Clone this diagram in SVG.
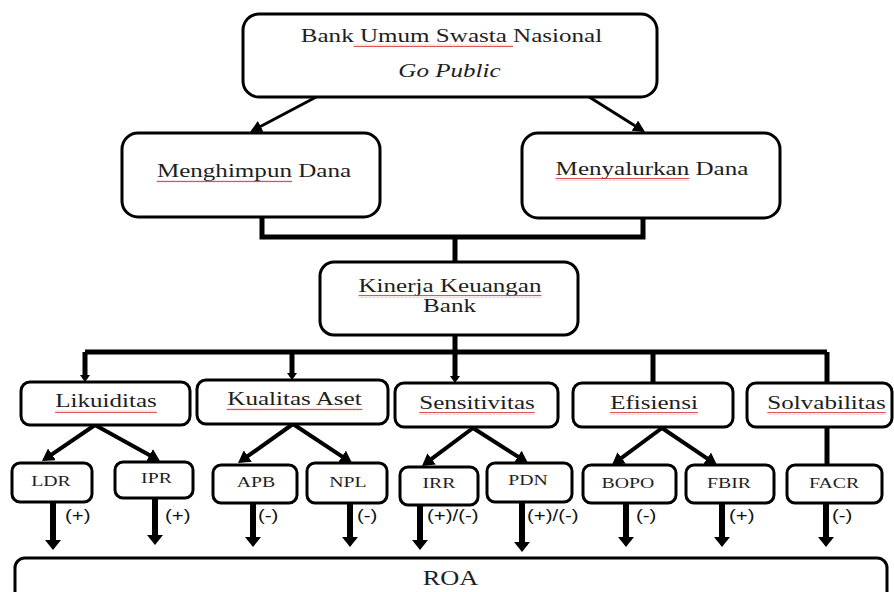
<svg xmlns="http://www.w3.org/2000/svg" width="894" height="592" viewBox="0 0 894 592">
<defs>
<style>
.box{fill:#fff;stroke:#000;stroke-width:3}
.t{font-family:'Liberation Serif','DejaVu Serif',serif;font-size:19px;fill:#1e1e1e;text-anchor:middle}
.tb{font-family:'Liberation Serif','DejaVu Serif',serif;font-size:15px;fill:#1e1e1e;text-anchor:middle}
.ro{font-family:'Liberation Serif','DejaVu Serif',serif;font-size:20px;fill:#1e1e1e;text-anchor:middle}
.s{font-family:'Liberation Sans','DejaVu Sans',sans-serif;font-size:17px;fill:#111}
.c5{stroke:#000;fill:none;stroke-width:5}
.c4{stroke:#000;fill:none;stroke-width:4}
.c3{stroke:#000;fill:none;stroke-width:3}
.c6{stroke:#000;fill:none;stroke-width:6}
.w{fill:url(#wave)}
</style>
<pattern id="wave" patternUnits="userSpaceOnUse" width="4" height="3"><path d="M0,2.2 L1,0.8 L2,2.2 L3,0.8 L4,2.2" stroke="#d42a2a" stroke-width="0.8" fill="none"/></pattern>
<marker id="a3" markerUnits="userSpaceOnUse" viewBox="0 0 12 12" markerWidth="12" markerHeight="12" refX="9" refY="6" orient="auto"><path d="M0,0 L12,6 L0,12 z" fill="#000"/></marker>
<marker id="a4" markerUnits="userSpaceOnUse" viewBox="0 0 12 14" markerWidth="12" markerHeight="14" refX="8" refY="7" orient="auto"><path d="M0,0 L12,7 L0,14 z" fill="#000"/></marker>
<marker id="a6" markerUnits="userSpaceOnUse" viewBox="0 0 10 16" markerWidth="10" markerHeight="16" refX="6" refY="8" orient="auto"><path d="M0,0 L10,8 L0,16 z" fill="#000"/></marker>
<marker id="as" markerUnits="userSpaceOnUse" viewBox="0 0 7 10" markerWidth="7" markerHeight="10" refX="3.5" refY="5" orient="auto"><path d="M0,0 L7,5 L0,10 z" fill="#000"/></marker>
</defs>
<rect width="894" height="592" fill="#fff"/>

<g id="connectors">
<path class="c3" d="M320,95 L252.7,130.6" marker-end="url(#a3)"/>
<path class="c3" d="M586,95 L642.5,130.4" marker-end="url(#a3)"/>
<path class="c5" d="M262,213 V237 H643 V215"/>
<path class="c5" d="M455,237 V262"/>
<path class="c5" d="M455,330 V352"/>
<path class="c5" d="M85,352 H827"/>
<path class="c5" d="M85,352 V378.5" marker-end="url(#as)"/>
<path class="c5" d="M292,352 V376.5" marker-end="url(#as)"/>
<path class="c5" d="M455,352 V379.5" marker-end="url(#as)"/>
<path class="c5" d="M653,352 V383"/>
<path class="c5" d="M827,352 V383"/>
<path class="c4" d="M95,425 L45.3,458.8" marker-end="url(#a4)"/>
<path class="c4" d="M95,425 L156.5,459.1" marker-end="url(#a4)"/>
<path class="c4" d="M293,424 L241.3,460.7" marker-end="url(#a4)"/>
<path class="c4" d="M293,424 L348.7,460.8" marker-end="url(#a4)"/>
<path class="c4" d="M473,428 L425.2,463.6" marker-end="url(#a4)"/>
<path class="c4" d="M473,428 L524.6,460.9" marker-end="url(#a4)"/>
<path class="c4" d="M662,428 L615.2,462.6" marker-end="url(#a4)"/>
<path class="c4" d="M662,428 L713.7,462.8" marker-end="url(#a4)"/>
<path class="c5" d="M827,427 V465"/>
<path class="c6" d="M53,502 V546" marker-end="url(#a6)"/>
<path class="c6" d="M155,498 V541" marker-end="url(#a6)"/>
<path class="c6" d="M253,503 V543" marker-end="url(#a6)"/>
<path class="c6" d="M350,503 V543" marker-end="url(#a6)"/>
<path class="c6" d="M420,505 V546" marker-end="url(#a6)"/>
<path class="c6" d="M522,502 V548" marker-end="url(#a6)"/>
<path class="c6" d="M626,503 V543" marker-end="url(#a6)"/>
<path class="c6" d="M722,503 V543" marker-end="url(#a6)"/>
<path class="c6" d="M826,503 V543" marker-end="url(#a6)"/>
<text class="s" transform="translate(65 521) scale(1.2 1)">(+)</text>
<text class="s" transform="translate(165 521) scale(1.2 1)">(+)</text>
<text class="s" transform="translate(258 521) scale(1.2 1)">(-)</text>
<text class="s" transform="translate(357 521) scale(1.2 1)">(-)</text>
<text class="s" transform="translate(427 521) scale(1.2 1)">(+)/(-)</text>
<text class="s" transform="translate(527 521) scale(1.2 1)">(+)/(-)</text>
<text class="s" transform="translate(636 521) scale(1.2 1)">(-)</text>
<text class="s" transform="translate(729 521) scale(1.2 1)">(+)</text>
<text class="s" transform="translate(832 521) scale(1.2 1)">(-)</text>
</g>

<g id="bank">
<rect class="box" x="243" y="14" width="414" height="83" rx="16"/>
<text class="t" transform="translate(451.5 42) scale(1.32 1)">Bank Umum Swasta Nasional</text>
<rect class="w" x="353.6" y="44" width="159.5" height="3"/>
<text class="t" font-style="italic" transform="translate(449.5 77) scale(1.32 1)">Go Public</text>
</g>
<g id="menghimpun">
<rect class="box" x="122" y="133" width="258" height="84" rx="16"/>
<text class="t" transform="translate(254 177) scale(1.32 1)">Menghimpun Dana</text>
<rect class="w" x="156.8" y="180" width="135.2" height="3"/>
</g>
<g id="menyalurkan">
<rect class="box" x="522" y="133" width="258" height="85" rx="16"/>
<text class="t" transform="translate(652 175) scale(1.32 1)">Menyalurkan Dana</text>
<rect class="w" x="555.6" y="178" width="133.7" height="3"/>
</g>
<g id="kinerja">
<rect class="box" x="320" y="262" width="258" height="73" rx="14"/>
<text class="t" transform="translate(450 292) scale(1.32 1)">Kinerja Keuangan</text>
<rect class="w" x="358.5" y="295" width="183" height="3"/>
<text class="t" transform="translate(449.5 312) scale(1.32 1)">Bank</text>
</g>
<g id="likuiditas">
<rect class="box" x="21" y="382" width="169" height="43" rx="9"/>
<text class="t" transform="translate(106 407) scale(1.32 1)">Likuiditas</text>
<rect class="w" x="55.1" y="410" width="101.8" height="3"/>
</g>
<g id="kualitas">
<rect class="box" x="197" y="380" width="191" height="44" rx="9"/>
<text class="t" transform="translate(294.5 405) scale(1.32 1)">Kualitas Aset</text>
<rect class="w" x="226.6" y="408" width="135.8" height="3"/>
</g>
<g id="sensitivitas">
<rect class="box" x="395" y="383" width="163" height="44" rx="9"/>
<text class="t" transform="translate(477 409) scale(1.32 1)">Sensitivitas</text>
<rect class="w" x="419.2" y="412" width="115.6" height="3"/>
</g>
<g id="efisiensi">
<rect class="box" x="573" y="383" width="160" height="44" rx="9"/>
<text class="t" transform="translate(654 409) scale(1.32 1)">Efisiensi</text>
<rect class="w" x="610.1" y="412" width="87.8" height="3"/>
</g>
<g id="solvabilitas">
<rect class="box" x="747" y="383" width="145" height="44" rx="9"/>
<text class="t" transform="translate(826.5 409) scale(1.32 1)">Solvabilitas</text>
<rect class="w" x="767.3" y="412" width="118.5" height="3"/>
</g>
<g id="ldr"><rect class="box" x="12" y="463" width="80" height="39" rx="8"/><text class="tb" transform="translate(51 486) scale(1.32 1)">LDR</text></g>
<g id="ipr"><rect class="box" x="115" y="462" width="78" height="36" rx="8"/><text class="tb" transform="translate(156.5 483) scale(1.32 1)">IPR</text></g>
<g id="apb"><rect class="box" x="213" y="465" width="84" height="38" rx="8"/><text class="tb" transform="translate(256 487) scale(1.32 1)">APB</text></g>
<g id="npl"><rect class="box" x="307" y="463" width="80" height="40" rx="8"/><text class="tb" transform="translate(348 487) scale(1.32 1)">NPL</text></g>
<g id="irr"><rect class="box" x="400" y="467" width="78" height="38" rx="8"/><text class="tb" transform="translate(439 488) scale(1.32 1)">IRR</text></g>
<g id="pdn"><rect class="box" x="487" y="463" width="85" height="39" rx="8"/><text class="tb" transform="translate(528 485) scale(1.32 1)">PDN</text></g>
<g id="bopo"><rect class="box" x="583" y="465" width="93" height="38" rx="8"/><text class="tb" transform="translate(628 488) scale(1.32 1)">BOPO</text></g>
<g id="fbir"><rect class="box" x="686" y="465" width="88" height="38" rx="8"/><text class="tb" transform="translate(729 488) scale(1.32 1)">FBIR</text></g>
<g id="facr"><rect class="box" x="787" y="465" width="95" height="38" rx="8"/><text class="tb" transform="translate(834 488) scale(1.32 1)">FACR</text></g>
<g id="roa"><rect class="box" x="15" y="558" width="872" height="70" rx="10"/><text class="ro" transform="translate(450.5 585) scale(1.32 1)">ROA</text></g>
</svg>
